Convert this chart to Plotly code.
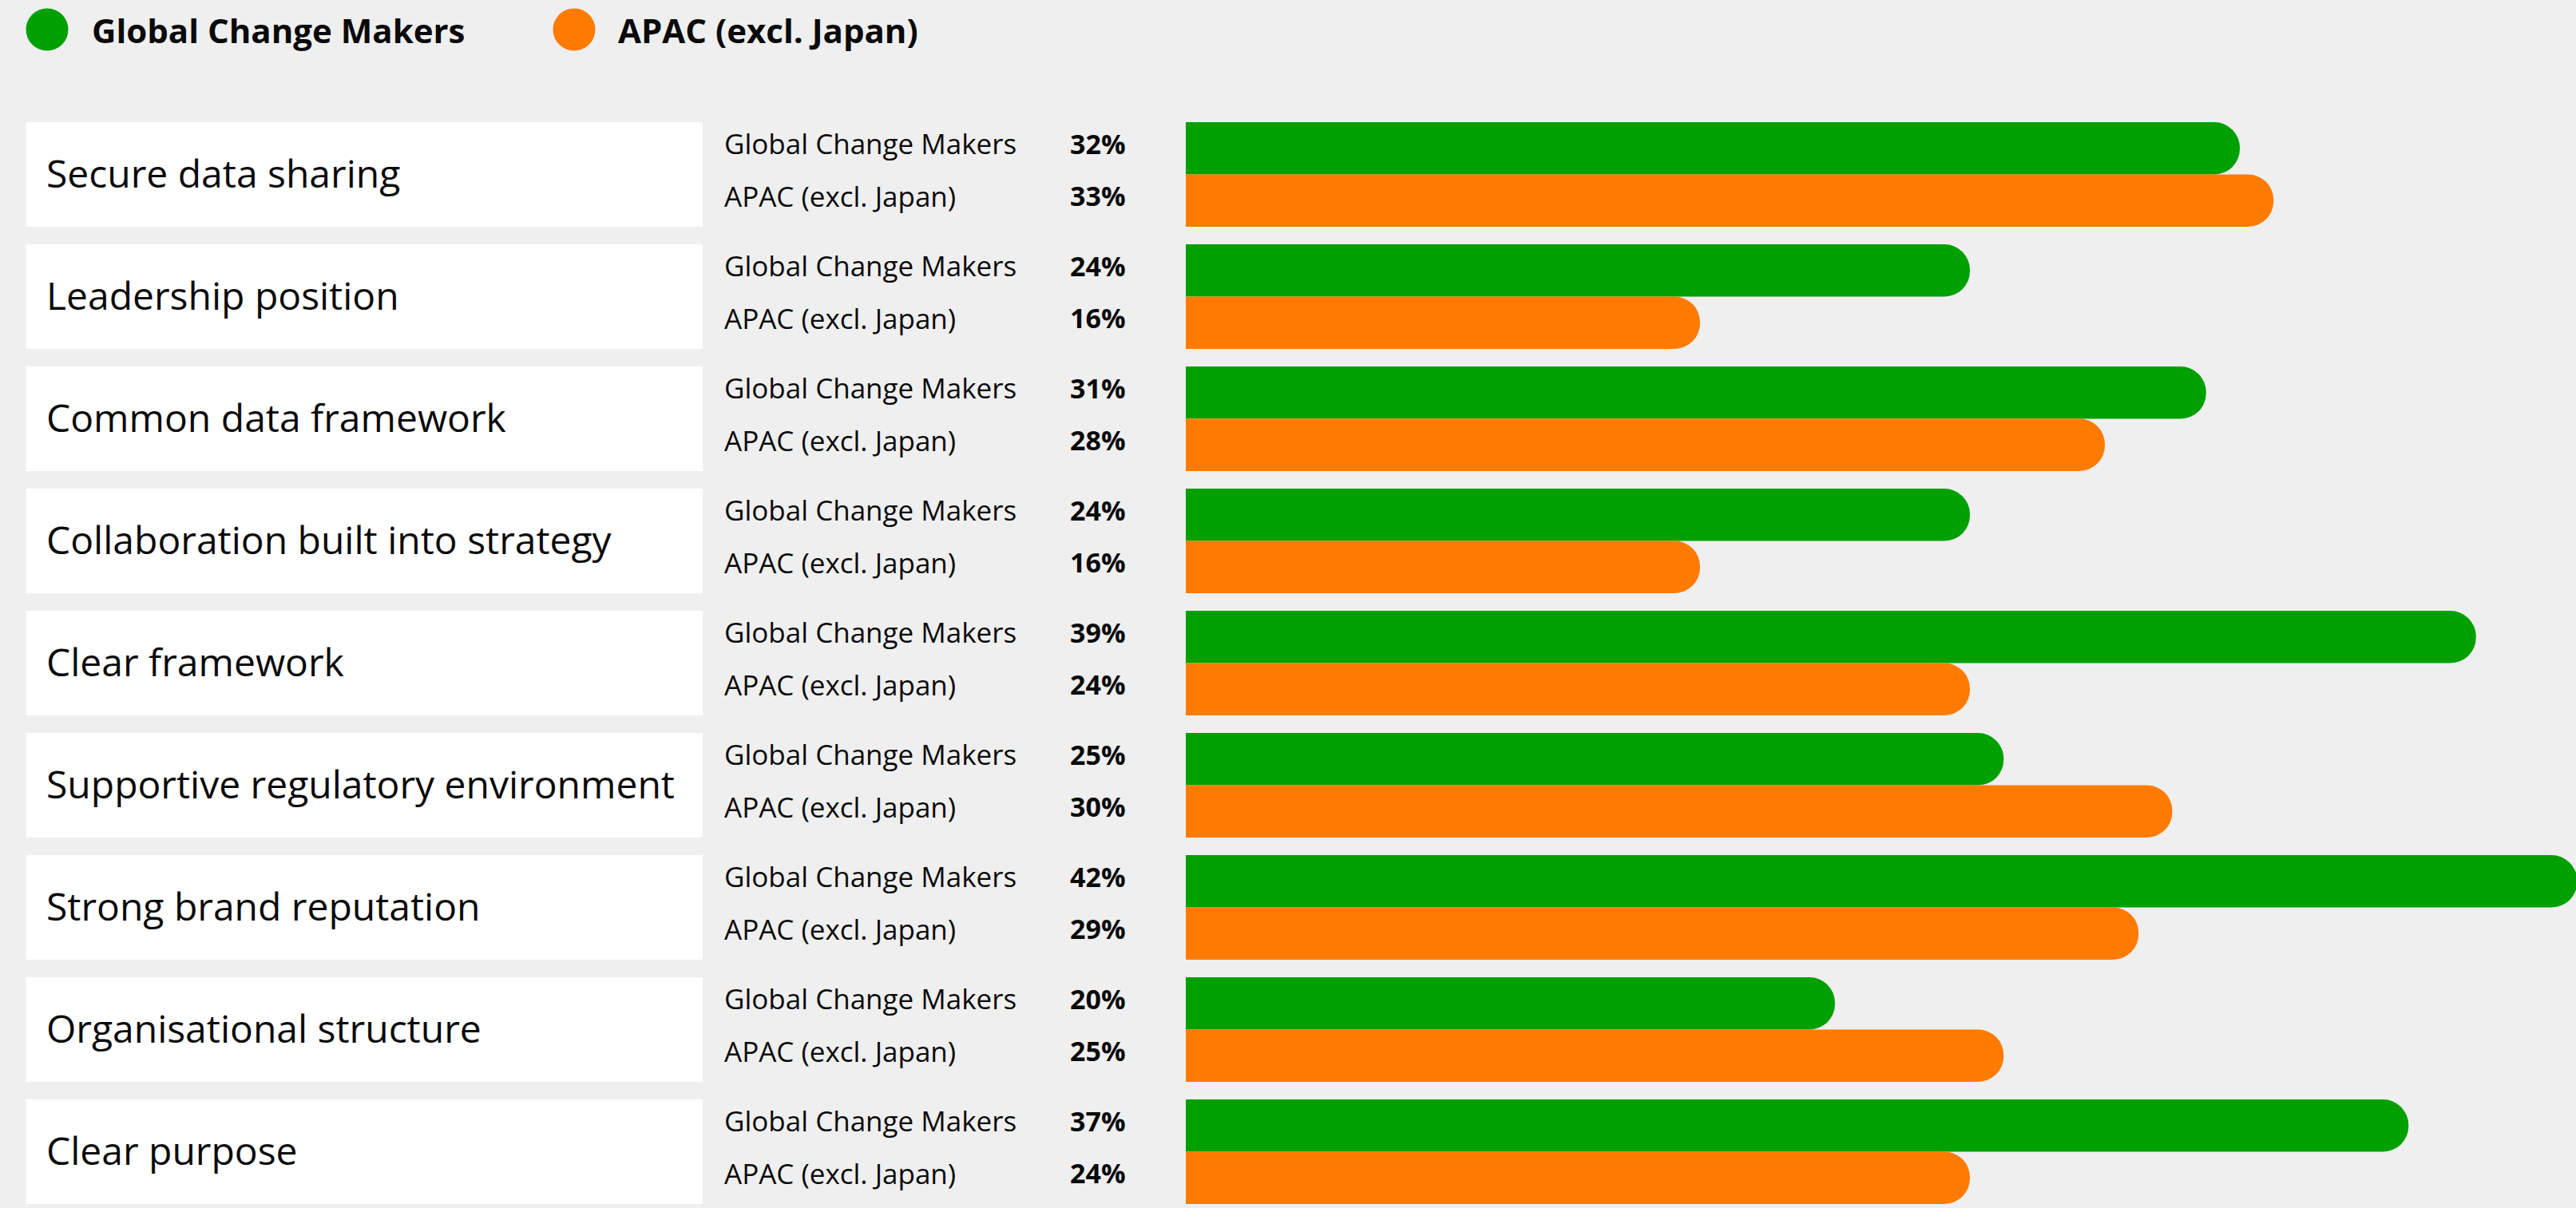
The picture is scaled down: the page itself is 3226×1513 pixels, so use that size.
import plotly.graph_objects as go

# ---- data ----
categories = [
    "Secure data sharing",
    "Leadership position",
    "Common data framework",
    "Collaboration built into strategy",
    "Clear framework",
    "Supportive regulatory environment",
    "Strong brand reputation",
    "Organisational structure",
    "Clear purpose",
]
series_names = ["Global Change Makers", "APAC (excl. Japan)"]
global_change_makers = [32, 24, 31, 24, 39, 25, 42, 20, 37]
apac_excl_japan = [33, 16, 28, 16, 24, 30, 29, 25, 24]

# ---- styling ----
W, H = 3226, 1513
TOP = 142
BG = "#efefef"
GREEN = "#00a000"
ORANGE = "#ff7b00"
TXT = "#0a0a0a"
FONT = "Open Sans"
BAR_W = 0.428


def px_x(px):
    return px / W


def px_y(py):
    return (H - py) / (H - TOP)


fig = go.Figure()
series_vals = [global_change_makers, apac_excl_japan]
colors = [GREEN, ORANGE]
offsets = [-BAR_W, 0.0]
for name, vals, col, off in zip(series_names, series_vals, colors, offsets):
    fig.add_trace(go.Bar(
        name=name,
        y=categories,
        x=vals,
        orientation="h",
        width=BAR_W,
        offset=off,
        marker=dict(color=col, line=dict(width=0), cornerradius=32),
        hoverinfo="x+name",
        showlegend=False,
    ))

shapes = []
annotations = []
for i, cat in enumerate(categories):
    shapes.append(dict(
        type="rect", xref="paper", yref="y",
        x0=px_x(32.5), x1=px_x(880), y0=i - BAR_W, y1=i + BAR_W,
        fillcolor="white", line=dict(width=0), layer="below",
    ))
    annotations.append(dict(
        x=px_x(56), y=i - 0.012, xref="paper", yref="y", text=cat,
        showarrow=False, xanchor="left", yanchor="middle",
        font=dict(family=FONT, size=48, color=TXT),
    ))
    for k, (name, vals) in enumerate(zip(series_names, series_vals)):
        yy = i - BAR_W / 2 if k == 0 else i + BAR_W / 2
        annotations.append(dict(
            x=px_x(905), y=yy - 0.04, xref="paper", yref="y", text=name,
            showarrow=False, xanchor="left", yanchor="middle",
            font=dict(family=FONT, size=35, color=TXT),
        ))
        annotations.append(dict(
            x=px_x(1412), y=yy - 0.04, xref="paper", yref="y", text=f"<b>{vals[i]}%</b>",
            showarrow=False, xanchor="right", yanchor="middle",
            font=dict(family=FONT, size=34, color=TXT),
        ))

# legend drawn as circles + text
legend_items = [(series_names[0], GREEN, 59, 113), (series_names[1], ORANGE, 719, 772)]
for name, col, cx, tx in legend_items:
    r = 26.5
    shapes.append(dict(
        type="circle", xref="paper", yref="paper",
        x0=px_x(cx - r), x1=px_x(cx + r), y0=px_y(37 + r), y1=px_y(37 - r),
        fillcolor=col, line=dict(width=0),
    ))
    annotations.append(dict(
        x=px_x(tx), y=px_y(37), xref="paper", yref="paper", text=f"<b>{name}</b>",
        showarrow=False, xanchor="left", yanchor="middle",
        font=dict(family=FONT, size=42, color=TXT),
    ))

# x scale: value 0 at px 1453, 42.25 px per percentage point; plot area starts at px 1485
x0_px, ppu = 1453.0, 42.25
fig.update_layout(
    width=W, height=H,
    margin=dict(l=0, r=0, t=TOP, b=0, pad=0),
    paper_bgcolor=BG, plot_bgcolor=BG,
    barmode="overlay",
    xaxis=dict(
        domain=[1485 / W, 1],
        range=[(1485 - x0_px) / ppu, (W - x0_px) / ppu],
        visible=False, showgrid=False, zeroline=False, fixedrange=True,
    ),
    yaxis=dict(
        type="category", categoryorder="array", categoryarray=categories,
        range=[(H - 218.5) / 153.0, -0.5],
        visible=False, showgrid=False, zeroline=False, fixedrange=True,
    ),
    shapes=shapes,
    annotations=annotations,
    font=dict(family=FONT, color=TXT),
)

fig.write_html(
    "out.html",
    config={"displayModeBar": False},
    post_script="document.body.style.margin='0';document.body.style.overflow='hidden';",
)
